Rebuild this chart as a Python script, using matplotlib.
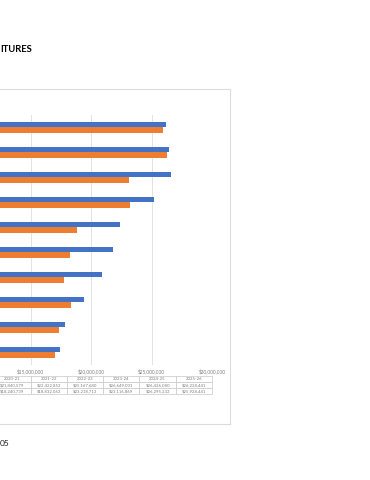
import numpy as np
import matplotlib.pyplot as plt
import matplotlib as mpl
from matplotlib.lines import Line2D

mpl.rc('font', family=['Lato', 'DejaVu Sans'])

# fiscal years, first one is drawn at the bottom
years = ['2016-17', '2017-18', '2018-19', '2019-20', '2020-21',
         '2021-22', '2022-23', '2023-24', '2024-25', '2025-26']
# first 4 years, the rest from the data table
revenues = [17450000, 17890000, 19430000, 20870000, 21840579,
            22422852, 25167680, 26649001, 26426080, 26228441]
expenditures = [17030000, 17360000, 18330000, 17780000, 18240739,
                18832063, 23218713, 23116869, 26295232, 25928441]
xticks = [0, 5000000, 10000000, 15000000, 20000000, 25000000, 30000000]

blue = '#4472C4'
orange = '#ED7D31'

W, H = 370, 480
fig = plt.figure(figsize=(W/100, H/100), dpi=100)

# the reference is a crop, the plot area starts left of the picture
left, right = -151, 212
top, bottom = 114.5, 365
ax = fig.add_axes([left/W, 1 - bottom/H, (right - left)/W, (bottom - top)/H])

y = np.arange(len(years))
bh = 0.22
ax.barh(y + 0.11, revenues, height=bh, color=blue, label='Revenues', zorder=3)
ax.barh(y - 0.11, expenditures, height=bh, color=orange, label='Expenditures', zorder=3)

ax.set_xlim(0, 30000000)
ax.set_ylim(-0.5, len(years) - 0.5)
ax.set_xticks(xticks, ['${:,.0f}'.format(v) for v in xticks])
ax.set_yticks(y, years)
ax.tick_params(axis='x', length=0, pad=2.5, labelsize=3.4, labelcolor='#7f7f7f')
ax.tick_params(axis='y', length=0, labelsize=3.4, labelcolor='#7f7f7f')
ax.grid(axis='x', color='#e3e3e3', linewidth=0.7, zorder=0)
for s in ['top', 'right', 'bottom']:
    ax.spines[s].set_visible(False)
ax.spines['left'].set_color('#d9d9d9')

# data table under the plot area
cells = [['${:,.0f}'.format(v) for v in revenues],
         ['${:,.0f}'.format(v) for v in expenditures]]
t_top = -(376 - bottom) / (bottom - top)
t_bot = -(394 - bottom) / (bottom - top)
tbl = ax.table(cellText=cells, colLabels=years, cellLoc='center',
               bbox=[0, t_bot, 1, t_top - t_bot])
tbl.auto_set_font_size(False)
tbl.set_fontsize(3.1)
for cell in tbl.get_celld().values():
    cell.set_edgecolor('#c8c8c8')
    cell.set_linewidth(0.5)
    cell.get_text().set_color('#7f7f7f')

# chart frame, cut on the left like the reference
fc = '#dcdcdc'
for xs, ys in [([0, 230], [89.3, 89.3]), ([230, 230], [89.3, 424]), ([0, 230], [424, 424])]:
    fig.add_artist(Line2D([x/W for x in xs], [1 - v/H for v in ys], color=fc, linewidth=0.8,
                          transform=fig.transFigure))

fig.text(0, 1 - 49/H, 'ITURES', fontsize=6.8, fontweight='bold', va='center', ha='left')
fig.text(0, 1 - 444/H, '05', fontsize=6, va='center', ha='left', color='#222222')

fig.savefig('out.png', dpi=100)
